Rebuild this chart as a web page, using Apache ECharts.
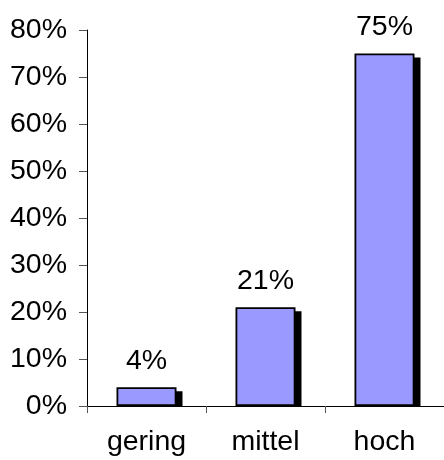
<!DOCTYPE html>
<html>
<head>
<meta charset="utf-8">
<script src="https://cdn.jsdelivr.net/npm/echarts@6/dist/echarts.min.js"></script>
<style>
  html, body { margin: 0; padding: 0; background: #fff; }
  #chart { width: 444px; height: 460px; }
</style>
</head>
<body>
<div id="chart"></div>
<script>
const categories = ['gering', 'mittel', 'hoch'];
const values = [4, 21, 75];
const yTicks = [0, 10, 20, 30, 40, 50, 60, 70, 80];

const FONT = '"Liberation Sans", Arial, sans-serif';
const myChart = echarts.init(document.getElementById('chart'));

const option = {
    backgroundColor: '#fff',
    animation: false,
    grid: {
        left: 87,
        right: -3,
        top: 30,
        bottom: 54
    },
    xAxis: {
        type: 'category',
        data: categories,
        boundaryGap: true,
        axisLine: { show: true, lineStyle: { color: '#000', width: 1 } },
        axisTick: { show: true, length: 7, lineStyle: { color: '#555' } },
        axisLabel: { color: '#000', fontSize: 28.5, fontFamily: FONT, margin: 22 },
        splitLine: { show: false }
    },
    yAxis: {
        type: 'value',
        min: yTicks[0],
        max: yTicks[yTicks.length - 1],
        interval: 10,
        axisLine: { show: true, lineStyle: { color: '#000', width: 1 } },
        axisTick: { show: true, length: 8, lineStyle: { color: '#555' } },
        axisLabel: { color: '#000', fontSize: 28.5, fontFamily: FONT, margin: 20, formatter: '{value}%' },
        splitLine: { show: false }
    },
    series: [
        {
            // schlagschatten hinter den balken
            type: 'custom',
            z: 1,
            silent: true,
            data: values.map((v, i) => [i, v]),
            renderItem: function (params, api) {
                const top = api.coord([api.value(0), api.value(1)]);
                const base = api.coord([api.value(0), 0]);
                return {
                    type: 'rect',
                    shape: {
                        x: top[0] - 30 + 6,
                        y: top[1] + 4,
                        width: 60,
                        height: base[1] - top[1] - 4
                    },
                    style: { fill: '#000' }
                };
            }
        },
        {
            type: 'bar',
            z: 3,
            barWidth: 60,
            data: values,
            itemStyle: {
                color: '#9999FF',
                borderColor: '#000',
                borderWidth: 1.8
            },
            label: {
                show: true,
                position: 'top',
                distance: 12,
                color: '#000',
                fontSize: 28.5,
                fontFamily: FONT,
                formatter: '{c}%'
            }
        }
    ]
};
option && myChart.setOption(option);
</script>
</body>
</html>
